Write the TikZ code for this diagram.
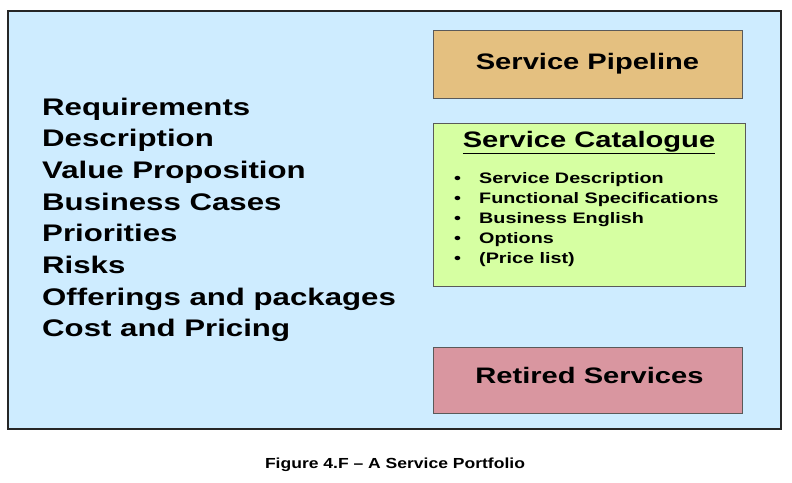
\documentclass[tikz,border=0pt]{standalone}
\usepackage{fontspec}
\setmainfont[FakeStretch=1.3]{Liberation Sans}
\newfontfamily\capfont[FakeStretch=1.2]{Liberation Sans}
\definecolor{bgblue}{RGB}{206,236,255}
\definecolor{pipe}{RGB}{228,192,128}
\definecolor{catg}{RGB}{214,255,162}
\definecolor{retd}{RGB}{217,150,160}
\definecolor{edge}{RGB}{90,90,90}
\tikzset{
  outerbox/.style={draw=black!85, line width=1.8pt, fill=bgblue, inner sep=0pt},
  portbox/.style={draw=edge, line width=0.9pt, inner sep=0pt},
  listtxt/.style={anchor=base west, inner sep=0pt, font=\fontsize{24}{28}\selectfont\bfseries},
  boxtxt/.style={inner sep=0pt, font=\fontsize{22.4}{26}\selectfont\bfseries},
  bullettxt/.style={anchor=base west, inner sep=0pt, font=\fontsize{15.2}{18}\selectfont\bfseries},
  captxt/.style={anchor=base, inner sep=0pt, font=\capfont\fontsize{14.6}{17}\selectfont\bfseries}
}
\begin{document}
\begin{tikzpicture}[x=1pt,y=-1pt]
\useasboundingbox (0,0) rectangle (792,482);
\fill[white] (0,0) rectangle (792,482);
\node[outerbox, minimum width=773pt, minimum height=418pt] (outer) at (394.5,220) {};
\node[portbox, fill=pipe, minimum width=309pt, minimum height=68pt] (pipeline) at (587.5,64) {};
\node[portbox, fill=catg, minimum width=312pt, minimum height=163pt] (catalogue) at (589,204.5) {};
\node[portbox, fill=retd, minimum width=309pt, minimum height=66pt] (retired) at (587.5,380) {};
\node[boxtxt] (pipelinetxt) at (pipeline.center) {Service Pipeline};
\node[boxtxt, anchor=base] (retiredtxt) at (589.5,383) {Retired Services};
\node[boxtxt, anchor=base] (cattitle) at (589,147) {\underline{Service Catalogue}};
\foreach \t [count=\i from 0] in {Requirements,Description,Value Proposition,Business Cases,Priorities,Risks,Offerings and packages,Cost and Pricing}{
  \node[listtxt] (l\i) at (42,115+31.7*\i) {\t};
}
\foreach \t [count=\i from 0] in {Service Description,Functional Specifications,Business English,Options,(Price list)}{
  \node[bullettxt] (bt\i) at (479,183+20*\i) {\t};
  \node[bullettxt] (bb\i) at (454,183+20*\i) {\textbullet};
}
\node[captxt] (caption) at (395,468) {Figure 4.F – A Service Portfolio};
\end{tikzpicture}
\end{document}
